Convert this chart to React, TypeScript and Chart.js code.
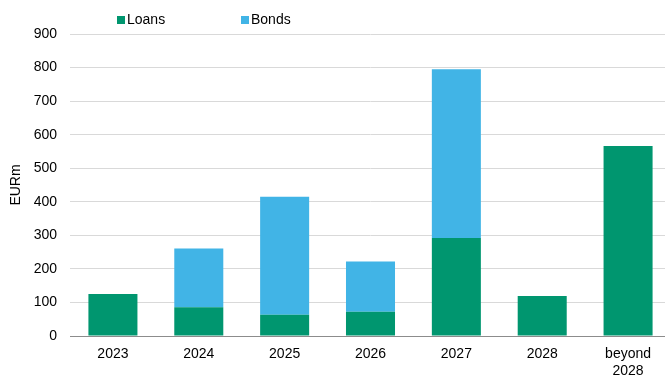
import React, { useEffect, useRef } from "react";
import { Chart, registerables } from "chart.js";

Chart.register(...registerables);

const categories: (string | string[])[] = ["2023", "2024", "2025", "2026", "2027", "2028", ["beyond", "2028"]];
const loans = [125, 86, 63, 72, 292, 119, 566];
const bonds = [0, 175, 352, 150, 503, 0, 0];
const seriesNames = ["Loans", "Bonds"];
const colors = ["#00966F", "#41B4E6"];
const FONT = "'Liberation Sans', Arial, sans-serif";

export default function App() {
  const ref = useRef<HTMLCanvasElement | null>(null);
  useEffect(() => {
    if (!ref.current) return;
    const chart = new Chart(ref.current, {
      type: "bar",
      data: {
        labels: categories as any,
        datasets: [
          { label: seriesNames[0], data: loans, backgroundColor: colors[0], borderWidth: 0, barPercentage: 0.571, categoryPercentage: 1 },
          { label: seriesNames[1], data: bonds, backgroundColor: colors[1], borderWidth: 0, barPercentage: 0.571, categoryPercentage: 1 },
        ],
      },
      options: {
        responsive: false,
        animation: false,
        devicePixelRatio: 1,
        layout: { padding: { top: 34, left: 0, right: 0, bottom: 0 } },
        plugins: { legend: { display: false }, tooltip: { enabled: false } },
        scales: {
          x: {
            stacked: true,
            grid: { display: false, drawTicks: false },
            border: { color: "#8C8C8C", width: 1 },
            ticks: { color: "#000", font: { family: FONT, size: 14 }, padding: 10, maxRotation: 0, autoSkip: false },
            afterFit: (s: any) => { s.height = 49; },
          },
          y: {
            stacked: true,
            min: 0,
            max: 900,
            grid: { color: "#D9D9D9", lineWidth: 1, drawTicks: false },
            border: { display: false },
            ticks: { stepSize: 100, color: "#000", font: { family: FONT, size: 14 }, padding: 13 },
            title: { display: true, text: "EURm", color: "#000", font: { family: FONT, size: 14 }, padding: { top: 8, bottom: 0 } },
            afterFit: (s: any) => { s.width = 70; },
          },
        },
      },
    });
    return () => chart.destroy();
  }, []);

  const legendText: React.CSSProperties = { position: "absolute", top: 11, fontFamily: FONT, fontSize: 14, lineHeight: "16px", color: "#000", whiteSpace: "nowrap" };
  const sq: React.CSSProperties = { position: "absolute", top: 16, width: 8, height: 8 };

  return (
    <div style={{ position: "fixed", left: 0, top: 0, width: 665, height: 375, overflow: "hidden", background: "#fff" }}>
      <canvas ref={ref} width={671} height={385} style={{ position: "absolute", left: 0, top: 0, width: 671, height: 385 }} />
      <div style={{ ...sq, left: 117, background: colors[0] }} />
      <div style={{ ...legendText, left: 127 }}>{seriesNames[0]}</div>
      <div style={{ ...sq, left: 241, background: colors[1] }} />
      <div style={{ ...legendText, left: 251 }}>{seriesNames[1]}</div>
    </div>
  );
}
